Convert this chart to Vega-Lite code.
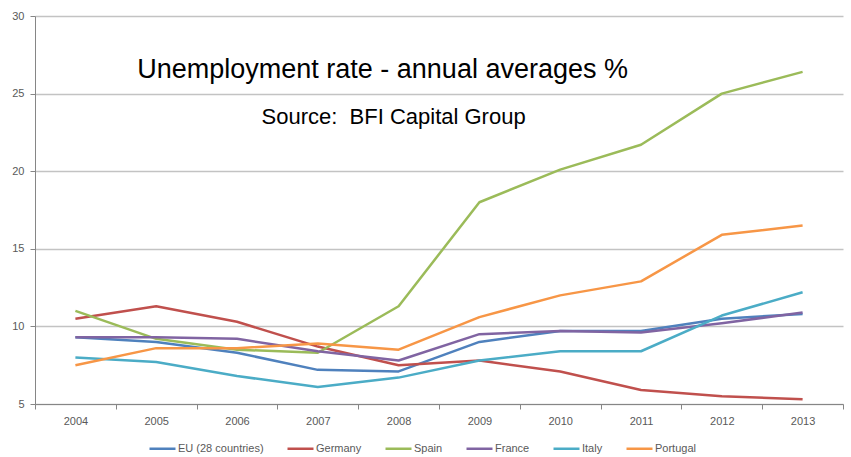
{
  "$schema": "https://vega.github.io/schema/vega-lite/v6.json",
  "width": 808,
  "height": 388,
  "autosize": {"type": "none"},
  "padding": {"left": 35, "top": 16, "right": 8, "bottom": 53},
  "background": "white",
  "config": {
    "view": {"stroke": null},
    "font": "Liberation Sans",
    "axis": {"labelFont": "Liberation Sans", "labelFontSize": 11, "labelColor": "#595959", "domainColor": "#868686", "tickColor": "#868686", "tickSize": 5, "title": null}
  },
  "data": {"values": [
    {"year": "2004", "country": "EU (28 countries)", "rate": 9.3},
    {"year": "2005", "country": "EU (28 countries)", "rate": 9.0},
    {"year": "2006", "country": "EU (28 countries)", "rate": 8.3},
    {"year": "2007", "country": "EU (28 countries)", "rate": 7.2},
    {"year": "2008", "country": "EU (28 countries)", "rate": 7.1},
    {"year": "2009", "country": "EU (28 countries)", "rate": 9.0},
    {"year": "2010", "country": "EU (28 countries)", "rate": 9.7},
    {"year": "2011", "country": "EU (28 countries)", "rate": 9.7},
    {"year": "2012", "country": "EU (28 countries)", "rate": 10.5},
    {"year": "2013", "country": "EU (28 countries)", "rate": 10.8},
    {"year": "2004", "country": "Germany", "rate": 10.5},
    {"year": "2005", "country": "Germany", "rate": 11.3},
    {"year": "2006", "country": "Germany", "rate": 10.3},
    {"year": "2007", "country": "Germany", "rate": 8.7},
    {"year": "2008", "country": "Germany", "rate": 7.5},
    {"year": "2009", "country": "Germany", "rate": 7.8},
    {"year": "2010", "country": "Germany", "rate": 7.1},
    {"year": "2011", "country": "Germany", "rate": 5.9},
    {"year": "2012", "country": "Germany", "rate": 5.5},
    {"year": "2013", "country": "Germany", "rate": 5.3},
    {"year": "2004", "country": "Spain", "rate": 11.0},
    {"year": "2005", "country": "Spain", "rate": 9.2},
    {"year": "2006", "country": "Spain", "rate": 8.5},
    {"year": "2007", "country": "Spain", "rate": 8.3},
    {"year": "2008", "country": "Spain", "rate": 11.3},
    {"year": "2009", "country": "Spain", "rate": 18.0},
    {"year": "2010", "country": "Spain", "rate": 20.1},
    {"year": "2011", "country": "Spain", "rate": 21.7},
    {"year": "2012", "country": "Spain", "rate": 25.0},
    {"year": "2013", "country": "Spain", "rate": 26.4},
    {"year": "2004", "country": "France", "rate": 9.3},
    {"year": "2005", "country": "France", "rate": 9.3},
    {"year": "2006", "country": "France", "rate": 9.2},
    {"year": "2007", "country": "France", "rate": 8.4},
    {"year": "2008", "country": "France", "rate": 7.8},
    {"year": "2009", "country": "France", "rate": 9.5},
    {"year": "2010", "country": "France", "rate": 9.7},
    {"year": "2011", "country": "France", "rate": 9.6},
    {"year": "2012", "country": "France", "rate": 10.2},
    {"year": "2013", "country": "France", "rate": 10.9},
    {"year": "2004", "country": "Italy", "rate": 8.0},
    {"year": "2005", "country": "Italy", "rate": 7.7},
    {"year": "2006", "country": "Italy", "rate": 6.8},
    {"year": "2007", "country": "Italy", "rate": 6.1},
    {"year": "2008", "country": "Italy", "rate": 6.7},
    {"year": "2009", "country": "Italy", "rate": 7.8},
    {"year": "2010", "country": "Italy", "rate": 8.4},
    {"year": "2011", "country": "Italy", "rate": 8.4},
    {"year": "2012", "country": "Italy", "rate": 10.7},
    {"year": "2013", "country": "Italy", "rate": 12.2},
    {"year": "2004", "country": "Portugal", "rate": 7.5},
    {"year": "2005", "country": "Portugal", "rate": 8.6},
    {"year": "2006", "country": "Portugal", "rate": 8.6},
    {"year": "2007", "country": "Portugal", "rate": 8.9},
    {"year": "2008", "country": "Portugal", "rate": 8.5},
    {"year": "2009", "country": "Portugal", "rate": 10.6},
    {"year": "2010", "country": "Portugal", "rate": 12.0},
    {"year": "2011", "country": "Portugal", "rate": 12.9},
    {"year": "2012", "country": "Portugal", "rate": 15.9},
    {"year": "2013", "country": "Portugal", "rate": 16.5}
  ]},
  "layer": [
    {
      "mark": {"type": "line", "strokeWidth": 2.5, "strokeJoin": "round"},
      "encoding": {
        "x": {"field": "year", "type": "ordinal", "scale": {"paddingInner": 0, "paddingOuter": 0},
              "axis": {"labelAngle": 0, "tickBand": "extent", "labelPadding": 6, "grid": false}},
        "y": {"field": "rate", "type": "quantitative", "scale": {"domain": [5, 30], "nice": false, "zero": false},
              "axis": {"values": [5, 10, 15, 20, 25, 30], "grid": true, "gridColor": "#c3c3c3", "gridWidth": 1.3, "labelPadding": 6}},
        "color": {"field": "country", "type": "nominal",
          "scale": {"domain": ["EU (28 countries)", "Germany", "Spain", "France", "Italy", "Portugal"],
                    "range": ["#4F81BD", "#C0504D", "#9BBB59", "#8064A2", "#4BACC6", "#F79646"]},
          "legend": {"title": null, "orient": "none", "direction": "horizontal", "legendX": 113, "legendY": 418,
                     "symbolType": "stroke", "symbolSize": 676, "symbolStrokeWidth": 2.5,
                     "labelFontSize": 11, "labelColor": "#595959", "labelFont": "Liberation Sans",
                     "columnPadding": 18, "labelOffset": 1}},
        "order": {"field": "country"}
      }
    },
    {
      "data": {"values": [{"label": "Unemployment rate - annual averages %"}]},
      "mark": {"type": "text", "fontSize": 27, "color": "#000000", "baseline": "middle", "align": "center", "dx": -16, "font": "Liberation Sans"},
      "encoding": {"x": {"datum": "2008", "type": "ordinal"}, "y": {"datum": 26.5}, "text": {"field": "label"}}
    },
    {
      "data": {"values": [{"label": "Source: \u00a0BFI Capital Group"}]},
      "mark": {"type": "text", "fontSize": 22, "color": "#000000", "baseline": "middle", "align": "center", "dx": -5, "font": "Liberation Sans"},
      "encoding": {"x": {"datum": "2008", "type": "ordinal"}, "y": {"datum": 23.5}, "text": {"field": "label"}}
    }
  ]
}
